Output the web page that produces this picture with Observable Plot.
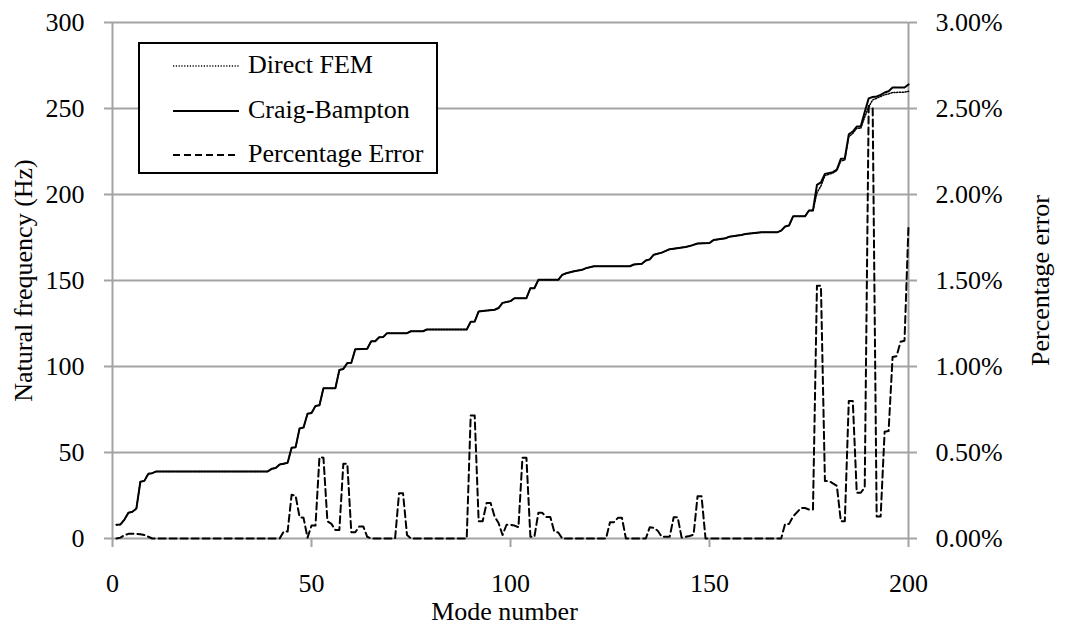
<!DOCTYPE html>
<html>
<head>
<meta charset="utf-8">
<script src="https://cdn.jsdelivr.net/npm/d3@7"></script>
<script src="https://cdn.jsdelivr.net/npm/@observablehq/plot@0.6"></script>
<style>
  html, body { margin: 0; padding: 0; background: #fff; }
  #wrap { position: relative; width: 1065px; height: 626px; font-family: "Liberation Serif", serif; }
  #legend { position: absolute; left: 138px; top: 42px; width: 300px; height: 132px; box-sizing: border-box;
            border: 2px solid #000; background: #fff; }
  .row { position: absolute; left: 0; height: 30px; font-size: 26px; line-height: 30px; color: #000; white-space: nowrap; }
  .row svg { position: absolute; left: 33px; top: 14px; }
  .row span { position: absolute; left: 108px; top: 0; }
</style>
</head>
<body>
<div id="wrap"></div>
<script>
// ---- data ----
const cbModes = [1,2,3,4,5,6,7,8,9,10,11,39,40,41,42,43,44,45,46,47,48,49,50,51,52,53,56,57,58,59,60,61,64,65,66,67,68,69,74,75,78,79,89,90,91,92,93,96,97,98,100,101,104,105,106,107,112,113,114,116,118,119,121,130,131,133,134,135,136,138,140,141,144,145,147,150,151,154,155,158,159,163,167,168,169,170,171,174,175,176,177,178,179,181,182,183,184,185,186,187,188,189,190,191,192,193,194,195,196,199,200];
const cbHz = [8,8.2,11,15,15.5,17.4,33,33.5,37.6,38,39,39,40.5,41,43,43.5,44,52.7,53,64,64.5,72.5,73,77,77.5,87.4,87.4,98,98.6,102,102.2,110,110.3,114.7,114.7,117,117.1,119.4,119.4,120.5,120.5,121.5,121.5,126,126.1,132,132.3,133,134,137,138,139.7,139.7,145.5,145.5,150.4,150.4,153.3,154.2,155.4,156.2,157.2,158.3,158.3,159.3,159.7,161.6,162.3,165,166.2,168.2,168.5,169.5,170,171.5,171.8,173.5,174.5,175.5,176.5,177,178,178,179,181.4,182,187.3,187.3,190.7,190.7,205.6,207,212,213,214.5,220.8,221,235,236.6,239.5,239.5,248,255.9,256.7,257,257.9,259.3,260,262.2,262.2,264];

// Direct FEM: coincides with Craig-Bampton up to mode 176, then sits slightly below
const femTailModes = [177,178,179,181,182,183,184,185,186,187,188,189,190,191,192,193,194,195,196,199,200];
const femTailHz = [201,205,211,212.5,214,219.5,220,233.6,235.5,238.5,238.5,245,251,255,256,257,258,258.5,259.3,259.5,260];

const errModes = [1,2,3,4,6,7,8,9,10,42,43,44,45,46,47,48,49,50,51,52,53,54,55,56,57,58,59,60,61,62,63,64,65,71,72,73,74,75,89,90,91,92,93,94,95,96,97,98,99,100,101,102,103,104,105,106,107,108,109,110,111,112,113,124,125,126,127,128,129,134,135,136,137,138,140,141,142,143,145,146,147,148,149,168,169,170,171,173,174,175,176,177,178,179,180,181,182,183,184,185,186,187,188,189,190,191,192,193,194,195,196,197,198,199,200];
const errPct = [0,0.005,0.02,0.027,0.027,0.025,0.02,0.01,0,0,0.04,0.04,0.254,0.25,0.124,0.12,0.005,0.075,0.075,0.473,0.47,0.1,0.085,0.05,0.05,0.435,0.435,0.036,0.036,0.07,0.07,0.01,0,0,0.263,0.263,0.02,0,0,0.715,0.715,0.1,0.1,0.207,0.207,0.128,0.09,0.02,0.08,0.08,0.075,0.066,0.469,0.469,0.01,0.01,0.149,0.149,0.125,0.125,0.04,0.035,0,0,0.095,0.095,0.12,0.12,0,0,0.066,0.062,0.045,0.01,0.01,0.124,0.124,0.005,0.015,0.022,0.246,0.246,0,0,0.085,0.085,0.128,0.177,0.177,0.168,0.168,1.469,1.469,0.335,0.335,0.32,0.306,0.1,0.1,0.8,0.8,0.266,0.266,0.296,2.514,2.5,0.128,0.128,0.621,0.625,1.055,1.06,1.144,1.15,1.82];

const xTicks = [0,50,100,150,200];
const yTicks = [0,50,100,150,200,250,300];           // Hz (left axis)
const pctTickLabels = ["0.00%","0.50%","1.00%","1.50%","2.00%","2.50%","3.00%"]; // right axis
const legendLabels = ["Direct FEM","Craig-Bampton","Percentage Error"];

// ---- tables ----
const cb = cbModes.map((m, i) => ({mode: m, hz: cbHz[i]}));
const fem = cb.filter(d => d.mode < femTailModes[0])
  .concat(femTailModes.map((m, i) => ({mode: m, hz: femTailHz[i]})));
const err = errModes.map((m, i) => ({mode: m, pct: errPct[i]}));
// right axis: 3.00% shares the height of 300 Hz
const pctToY = p => p * 100;

const grey = "#a3a3a3";
const fontFamily = "'Liberation Serif', serif";

const chart = Plot.plot({
  width: 1065,
  height: 626,
  marginLeft: 112,
  marginRight: 157,
  marginTop: 22,
  marginBottom: 88,
  style: {fontFamily, fontSize: "26px", color: "#000", background: "#fff", overflow: "visible"},
  x: {domain: [0, 200]},
  y: {domain: [0, 300]},
  marks: [
    Plot.ruleY(yTicks, {stroke: grey, strokeWidth: 2}),
    Plot.ruleX([xTicks[0], xTicks[xTicks.length - 1]], {stroke: grey, strokeWidth: 2}),
    Plot.axisY({anchor: "left", ticks: yTicks, tickSize: 8, tickPadding: 20, stroke: grey, strokeWidth: 2, fill: "#000", label: null, fontSize: 26}),
    Plot.axisY({anchor: "right", ticks: yTicks, tickSize: 8, tickPadding: 19, stroke: grey, strokeWidth: 2, fill: "#000", label: null, fontSize: 26,
                tickFormat: (v) => pctTickLabels[yTicks.indexOf(v)]}),
    Plot.axisX({anchor: "bottom", ticks: xTicks, tickSize: 9, tickPadding: 26, stroke: grey, strokeWidth: 2, fill: "#000", label: null, fontSize: 26}),
    Plot.line(fem, {x: "mode", y: "hz", stroke: "#000", strokeWidth: 1.5, strokeDasharray: "1.2,1.6"}),
    Plot.line(cb, {x: "mode", y: "hz", stroke: "#000", strokeWidth: 2}),
    Plot.line(err, {x: "mode", y: d => pctToY(d.pct), stroke: "#000", strokeWidth: 2, strokeDasharray: "7,4"}),
    Plot.text(["Natural frequency (Hz)"], {frameAnchor: "left", dx: -89, rotate: -90, textAnchor: "middle", lineAnchor: "middle", fontSize: 26, fill: "#000"}),
    Plot.text(["Percentage error"], {frameAnchor: "right", dx: 132, rotate: -90, textAnchor: "middle", lineAnchor: "middle", fontSize: 26, fill: "#000"}),
    Plot.text(["Mode number"], {frameAnchor: "bottom", dx: -6, dy: 73, textAnchor: "middle", lineAnchor: "middle", fontSize: 26, fill: "#000"})
  ]
});

const wrap = document.getElementById("wrap");
wrap.appendChild(chart);

// ---- legend (HTML overlay inside the plot frame) ----
const legend = document.createElement("div");
legend.id = "legend";
const dashes = ["1.2,1.6", null, "7,4"];
const widths = [1.5, 2, 2];
const rowTops = [6, 51, 95];
legendLabels.forEach((lab, i) => {
  const row = document.createElement("div");
  row.className = "row";
  row.style.top = rowTops[i] + "px";
  row.innerHTML = `<svg width="66" height="4"><line x1="0" x2="66" y1="2" y2="2" stroke="#000" stroke-width="${widths[i]}" ${dashes[i] ? `stroke-dasharray="${dashes[i]}"` : ""}/></svg><span>${lab}</span>`;
  legend.appendChild(row);
});
wrap.appendChild(legend);
</script>
</body>
</html>
